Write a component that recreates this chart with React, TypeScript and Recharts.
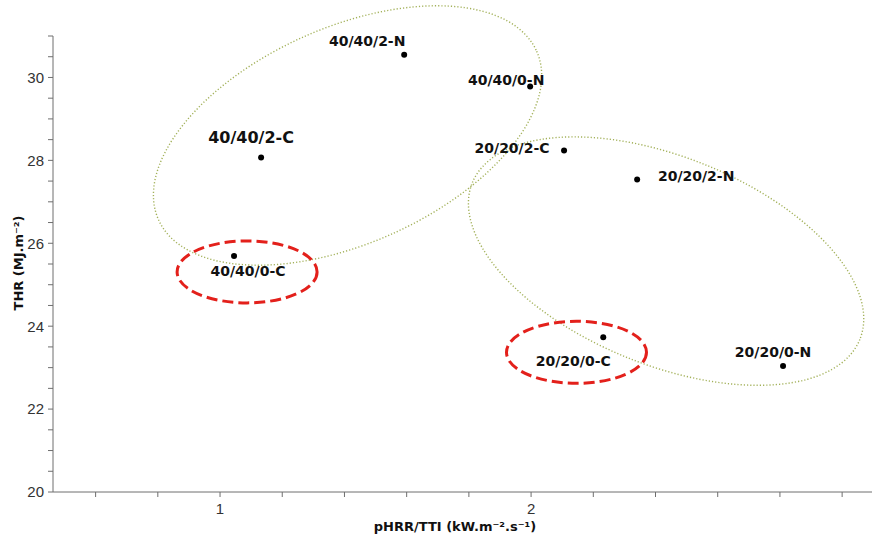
import React from "react";
import { ScatterChart, Scatter, XAxis, YAxis, ReferenceDot } from "recharts";

// samples: pHRR/TTI vs THR
const sampleNames = [
  "40/40/2-N",
  "40/40/0-N",
  "40/40/2-C",
  "40/40/0-C",
  "20/20/2-C",
  "20/20/2-N",
  "20/20/0-C",
  "20/20/0-N",
];
const pHrrTti = [1.592, 1.997, 1.132, 1.045, 2.106, 2.341, 2.232, 2.81];
const thr = [30.55, 29.78, 28.07, 25.69, 28.24, 27.54, 23.73, 23.04];

const xTicks = [0.6, 0.8, 1, 1.2, 1.4, 1.6, 1.8, 2, 2.2, 2.4, 2.6, 2.8, 3];
const yTicks = [
  20, 20.5, 21, 21.5, 22, 22.5, 23, 23.5, 24, 24.5, 25, 25.5, 26, 26.5, 27,
  27.5, 28, 28.5, 29, 29.5, 30, 30.5, 31,
];
const xLabeled = [1, 2];
const yLabeled = [20, 22, 24, 26, 28, 30];

// group ellipses (centres in data units)
const groupNames = ["40/40", "20/20"];
const groupX = [1.41, 2.434];
const groupY = [28.6, 25.57];

// highlighted "0-C" samples
const highlightNames = ["40/40/0-C", "20/20/0-C"];
const highlightX = [1.087, 2.146];
const highlightY = [25.31, 23.37];

const data = sampleNames.map((name, i) => ({ name, x: pHrrTti[i], y: thr[i] }));

// label placement relative to the dot (px)
const labelPos: { [k: string]: { dx: number; dy: number; size: number } } = {
  "40/40/2-N": { dx: -37, dy: -9, size: 14 },
  "40/40/0-N": { dx: -24, dy: -2, size: 14 },
  "40/40/2-C": { dx: -10, dy: -14, size: 16 },
  "40/40/0-C": { dx: 14, dy: 20, size: 14 },
  "20/20/2-C": { dx: -52, dy: 3, size: 14 },
  "20/20/2-N": { dx: 59, dy: 2, size: 14 },
  "20/20/0-C": { dx: -30, dy: 29, size: 14 },
  "20/20/0-N": { dx: -10, dy: -9, size: 14 },
};

const groupShape = [
  { rx: 207, ry: 108, rot: -24 },
  { rx: 209, ry: 104, rot: 22 },
];

const labelFont = "DejaVu Sans, Verdana, sans-serif";
const tickFont = "Liberation Sans, Arial, sans-serif";
const axisColor = "#6e6e6e";

const isWhole = (v: number, list: number[]) =>
  list.some(t => Math.abs(t - v) < 1e-6);

const renderPoint = (props: any) => {
  const { cx, cy, payload } = props;
  const p = labelPos[payload.name];
  return (
    <g>
      <circle cx={cx} cy={cy} r={3} fill="#000" />
      <text
        x={cx + p.dx}
        y={cy + p.dy}
        textAnchor="middle"
        fontFamily={labelFont}
        fontWeight="bold"
        fontSize={p.size}
        fill="#111"
      >
        {payload.name}
      </text>
    </g>
  );
};

const groupEllipse = (i: number) => (props: any) => {
  const { cx, cy } = props;
  const s = groupShape[i];
  return (
    <ellipse
      cx={cx}
      cy={cy}
      rx={s.rx}
      ry={s.ry}
      transform={`rotate(${s.rot} ${cx} ${cy})`}
      fill="none"
      stroke="#a3b15a"
      strokeWidth={1.4}
      strokeDasharray="1.2 2"
    />
  );
};

const highlightEllipse = (props: any) => {
  const { cx, cy } = props;
  return (
    <ellipse
      cx={cx}
      cy={cy}
      rx={70}
      ry={31}
      fill="none"
      stroke="#e3201b"
      strokeWidth={3}
      strokeDasharray="11 5"
    />
  );
};

const YTitle = (props: any) => {
  const vb = props.viewBox;
  const cy = vb.y + vb.height / 2 - 1;
  return (
    <text
      x={23}
      y={cy}
      transform={`rotate(-90 23 ${cy})`}
      textAnchor="middle"
      fontFamily={labelFont}
      fontWeight="bold"
      fontSize={13}
      fill="#111"
    >
      THR (MJ.m⁻²)
    </text>
  );
};

const XTitle = () => (
  <text
    x={455}
    y={531}
    textAnchor="middle"
    fontFamily={labelFont}
    fontWeight="bold"
    fontSize={13}
    fill="#111"
  >
    pHRR/TTI (kW.m⁻².s⁻¹)
  </text>
);

export default function App() {
  return (
    <div style={{ position: "absolute", left: 0, top: 0, background: "#fff" }}>
      <ScatterChart
        width={872}
        height={541}
        margin={{ top: 36, right: 0, bottom: 0, left: 0 }}
      >
        <XAxis
          type="number"
          dataKey="x"
          domain={[0.463, 3.096]}
          ticks={xTicks}
          allowDataOverflow
          height={49}
          tickSize={5}
          tickMargin={6}
          interval={0}
          stroke={axisColor}
          tick={{ fill: "#333", fontSize: 15, fontFamily: tickFont }}
          tickFormatter={(v: number) => (isWhole(v, xLabeled) ? String(Math.round(v)) : "")}
          label={<XTitle />}
        />
        <YAxis
          type="number"
          dataKey="y"
          domain={[20, 31]}
          ticks={yTicks}
          allowDataOverflow
          width={53}
          tickSize={5}
          tickMargin={4}
          interval={0}
          stroke={axisColor}
          tick={{ fill: "#333", fontSize: 15, fontFamily: tickFont }}
          tickFormatter={(v: number) => (isWhole(v, yLabeled) ? String(Math.round(v)) : "")}
          label={<YTitle />}
        />
        {groupNames.map((g, i) => (
          <ReferenceDot
            key={g}
            x={groupX[i]}
            y={groupY[i]}
            r={1}
            ifOverflow="visible"
            shape={groupEllipse(i)}
          />
        ))}
        {highlightNames.map((h, i) => (
          <ReferenceDot
            key={h}
            x={highlightX[i]}
            y={highlightY[i]}
            r={1}
            ifOverflow="visible"
            shape={highlightEllipse}
          />
        ))}
        <Scatter data={data} shape={renderPoint} isAnimationActive={false} />
      </ScatterChart>
    </div>
  );
}
